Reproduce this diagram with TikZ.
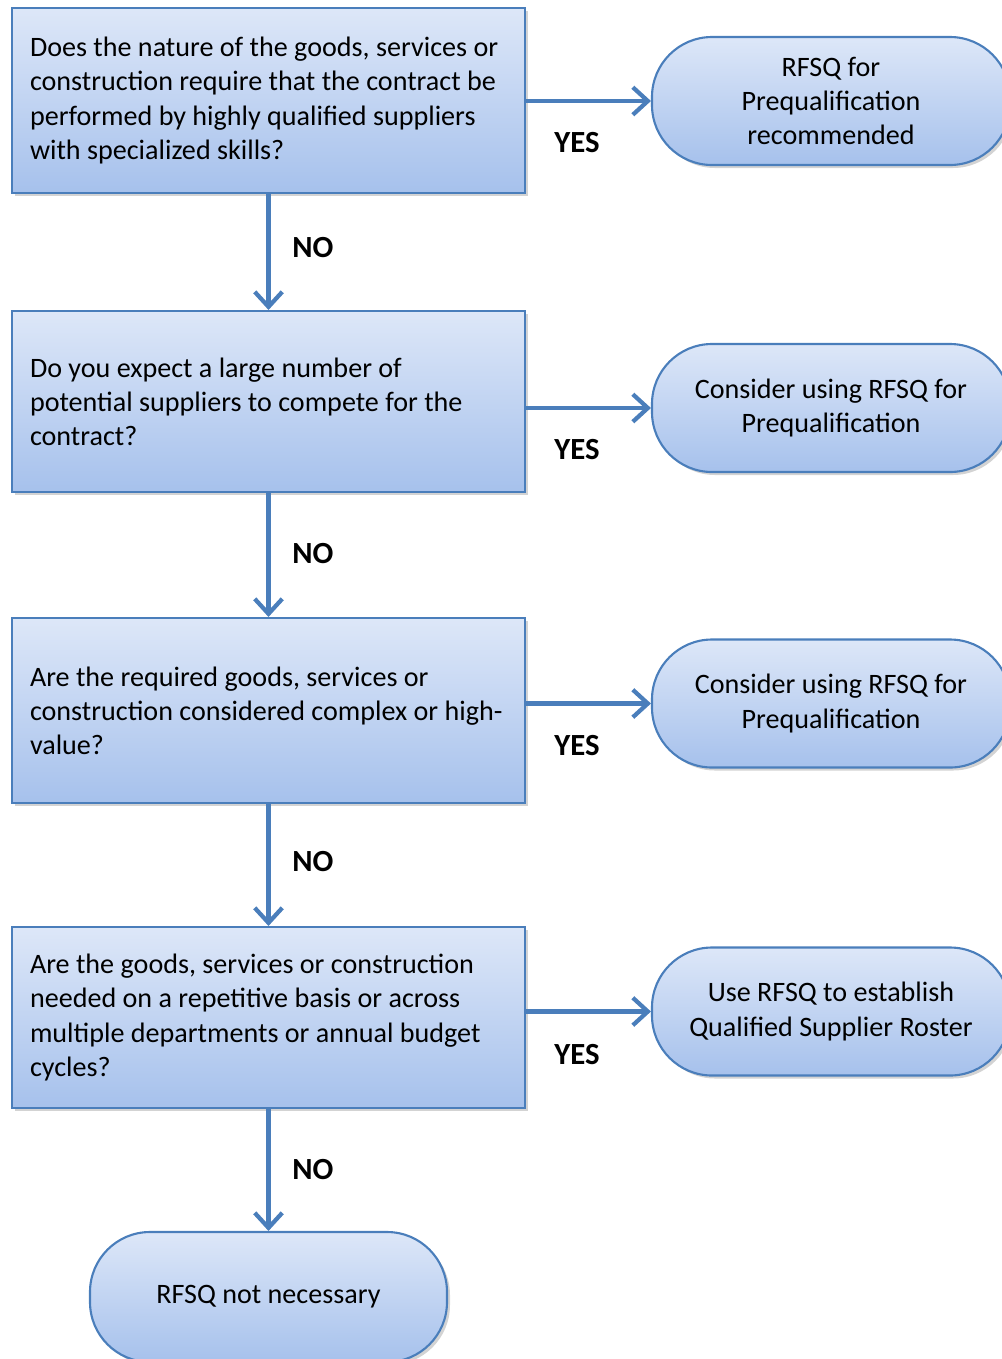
\documentclass[tikz,border=0pt]{standalone}
\usepackage{fontspec}
\setmainfont{Carlito}
\usetikzlibrary{arrows.meta,shadows}
\definecolor{flowline}{HTML}{4A7EBB}
\definecolor{flowtop}{HTML}{DDE7F8}
\definecolor{flowbot}{HTML}{A6C1EC}
\begin{document}
\begin{tikzpicture}[
  qbox/.style={rectangle, draw=flowline, line width=1.2pt, top color=flowtop, bottom color=flowbot,
    text width=9.54cm, inner xsep=0.36cm, inner ysep=0pt, align=flush left,
    font=\fontsize{16}{19.4}\selectfont,
    drop shadow={opacity=0.35, shadow xshift=0.06cm, shadow yshift=-0.06cm}},
  rbox/.style={rectangle, rounded corners=1.2cm, draw=flowline, line width=1.2pt, top color=flowtop, bottom color=flowbot,
    minimum width=7.16cm, minimum height=2.56cm, inner sep=0pt, align=center,
    font=\fontsize{16}{19.4}\selectfont,
    drop shadow={opacity=0.35, shadow xshift=0.06cm, shadow yshift=-0.06cm}},
  arr/.style={draw=flowline, line width=2.4pt, -{Straight Barb[length=0.3cm, width=0.55cm, line width=2.4pt]}},
  answer/.style={font=\fontsize{17.5}{20}\bfseries\selectfont}
]
  \useasboundingbox (0,0) rectangle (20.04,-27.18);

  % Fragen links
  \node[qbox, minimum height=3.7cm] (q1) at (5.37,-2.01) {Does the nature of the goods, services or\\construction require that the contract be\\performed by highly qualified suppliers\\with specialized skills?};
  \node[qbox, minimum height=3.62cm] (q2) at (5.37,-8.03) {Do you expect a large number of\\potential suppliers to compete for the\\contract?};
  \node[qbox, minimum height=3.7cm] (q3) at (5.37,-14.21) {Are the required goods, services or\\construction considered complex or high-\\value?};
  \node[qbox, minimum height=3.62cm] (q4) at (5.37,-20.35) {Are the goods, services or construction\\needed on a repetitive basis or across\\multiple departments or annual budget\\cycles?};

  % Ergebnisse rechts
  \node[rbox] (r1) at (16.62,-2.02) {RFSQ for\\Prequalification\\recommended};
  \node[rbox] (r2) at (16.62,-8.16) {Consider using RFSQ for\\Prequalification};
  \node[rbox] (r3) at (16.62,-14.07) {Consider using RFSQ for\\Prequalification};
  \node[rbox] (r4) at (16.62,-20.23) {Use RFSQ to establish\\Qualified Supplier Roster};
  \node[rbox, minimum width=7.14cm, minimum height=2.6cm] (rend) at (5.37,-25.94) {RFSQ not necessary};

  % Pfeile JA
  \draw[arr] (r1.west -| q1.east) -- (r1.west);
  \draw[arr] (r2.west -| q2.east) -- (r2.west);
  \draw[arr] (r3.west -| q3.east) -- (r3.west);
  \draw[arr] (r4.west -| q4.east) -- (r4.west);

  % Pfeile NEIN
  \draw[arr] (q1.south) -- (q2.north);
  \draw[arr] (q2.south) -- (q3.north);
  \draw[arr] (q3.south) -- (q4.north);
  \draw[arr] (q4.south) -- (rend.north);

  % Beschriftungen
  \node[answer] (y1) at (11.54,-2.86) {YES};
  \node[answer] (y2) at (11.54,-9.0) {YES};
  \node[answer] (y3) at (11.54,-14.92) {YES};
  \node[answer] (y4) at (11.54,-21.1) {YES};
  \node[answer] (n1) at (6.26,-4.96) {NO};
  \node[answer] (n2) at (6.26,-11.08) {NO};
  \node[answer] (n3) at (6.26,-17.24) {NO};
  \node[answer] (n4) at (6.26,-23.4) {NO};
\end{tikzpicture}
\end{document}
